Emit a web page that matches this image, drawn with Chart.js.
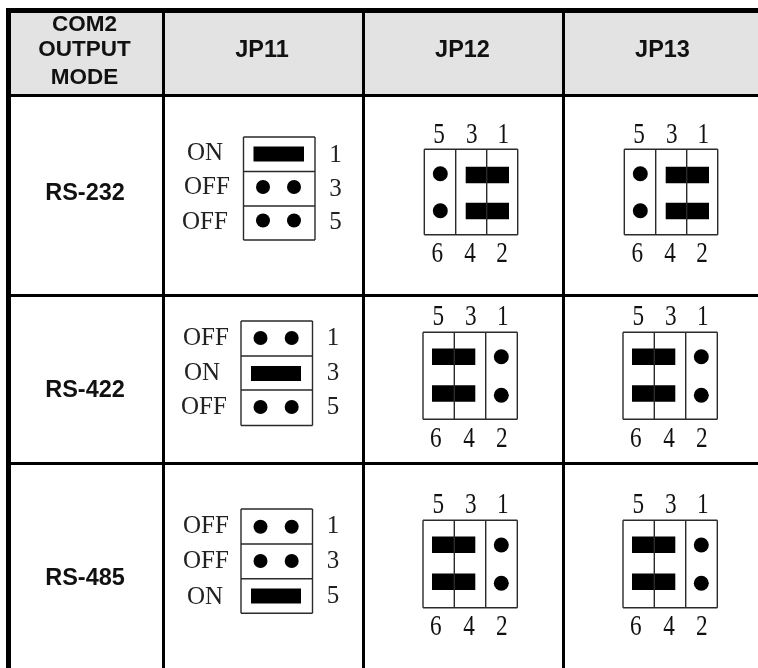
<!DOCTYPE html>
<html>
<head>
<meta charset="utf-8">
<style>html,body{margin:0;padding:0;background:#fff}canvas{display:block}</style>
<script src="https://cdn.jsdelivr.net/npm/chart.js@4"></script>
</head>
<body>
<canvas id="c" width="758" height="668"></canvas>
<script>
// ---------- table content ----------
const headerLines = ["COM2", "OUTPUT", "MODE"];
const jumpers = ["JP11", "JP12", "JP13"];
const modes = ["RS-232", "RS-422", "RS-485"];
const jp11States = [["ON", "OFF", "OFF"], ["OFF", "ON", "OFF"], ["OFF", "OFF", "ON"]];
const jp11Pins = ["1", "3", "5"];
const topPins = ["5", "3", "1"];
const bottomPins = ["6", "4", "2"];

// ---------- layout ----------
const colRules = [8.5, 163.5, 363.5, 563.5];
const rowRules = [10.5, 95.5, 295.5, 463.5];
const jp11Geo = [
  {box:[243.5,315],ys:[137,171.5,206,240],dotX:[263,294],barX:[253.5,304],labelX:[205,207,205],numX:335.5,centers:[154,187,220.5],textY:[153,187,222],numY:[155,189,222]},
  {box:[241,312.5],ys:[321,356,390,425.5],dotX:[260.5,291.7],barX:[251,301],labelX:[206,202,204],numX:333,centers:[338,373.5,407],textY:[338,373,407],numY:[338,373,407]},
  {box:[241,312.5],ys:[509,544,578.7,613.3],dotX:[260.5,291.7],barX:[251,301],labelX:[206,206,205],numX:333,centers:[526.7,561,596],textY:[526,561,597],numY:[526,561,596]}
];
const blockGeo = [
  {box:[424.3,517.7],div:[455.7,486.7],ys:[149.3,234.7],rowsY:[175,211],dotY:[173.7,210.7],barX:[465.7,509],dotX:440.3,
   topX:[439,471.7,503.3],botX:[437.3,470,502],topY:135,botY:254},
  {box:[423,517.3],div:[454.3,485.7],ys:[332.3,419.3],rowsY:[356.8,393.5],dotY:[356.7,395.3],barX:[432,475.3],dotX:501.3,
   topX:[438.3,470.7,502.7],botX:[435.7,469,501.7],topY:317.3,botY:439.3},
  {box:[423,517.3],div:[454.3,485.7],ys:[520.3,607.7],rowsY:[544.8,581.7],dotY:[545,583.3],barX:[432,475.3],dotX:501.3,
   topX:[438.3,470.7,502.7],botX:[435.7,469,501.7],topY:505,botY:627.3}
];
const blockColumnShift = [0, 200]; // JP12, JP13

// ---------- build marks ----------
const gap = {x:null, y:null};
const boxLines = [], bars11 = [], barsBlock = [], dots11 = [], dotsBlock = [];
modes.forEach((m, r) => {
  const g = jp11Geo[r];
  g.ys.forEach(y => boxLines.push({x:g.box[0],y},{x:g.box[1],y},gap));
  g.box.forEach(x => boxLines.push({x,y:g.ys[0]},{x,y:g.ys[3]},gap));
  jp11States[r].forEach((s, i) => {
    if (s === "ON") bars11.push({x:g.barX[0],y:g.centers[i]},{x:g.barX[1],y:g.centers[i]},gap);
    else g.dotX.forEach(x => dots11.push({x,y:g.centers[i]}));
  });
  blockColumnShift.forEach(dx => {
    const b = blockGeo[r];
    b.box.concat(b.div).forEach(x => boxLines.push({x:x+dx,y:b.ys[0]},{x:x+dx,y:b.ys[1]},gap));
    b.ys.forEach(y => boxLines.push({x:b.box[0]+dx,y},{x:b.box[1]+dx,y},gap));
    b.rowsY.forEach(y => barsBlock.push({x:b.barX[0]+dx,y},{x:b.barX[1]+dx,y},gap));
    b.dotY.forEach(y => dotsBlock.push({x:b.dotX+dx,y}));
  });
});

const seg = (data, color, width) => ({type:'scatter', data, showLine:true, spanGaps:false, borderColor:color,
  borderWidth:width, borderCapStyle:'butt', pointRadius:0, pointHoverRadius:0, tension:0, clip:false});
const pts = (data, r) => ({type:'scatter', data, showLine:false, pointRadius:r, pointHoverRadius:r,
  backgroundColor:'#000', borderWidth:0, clip:false});

const SANS = '"Liberation Sans", Arial, sans-serif';
const SERIF = '"Liberation Serif", "Times New Roman", serif';
const textPlugin = {
  id:'tableText',
  afterDatasetsDraw(chart){
    const {ctx, scales:{x:X, y:Y}} = chart;
    const put = (t, x, y, font, color, sx) => {
      ctx.save();
      ctx.font = font; ctx.fillStyle = color; ctx.textAlign = 'center'; ctx.textBaseline = 'middle';
      ctx.translate(X.getPixelForValue(x), Y.getPixelForValue(y));
      ctx.scale(sx || 1, 1);
      ctx.fillText(t, 0, 0);
      ctx.restore();
    };
    const hf = 'bold 22.5px ' + SANS;
    const bf = 'bold 23.5px ' + SANS;
    const headY = [25, 50, 78];
    headerLines.forEach((t, i) => put(t, 84.5, headY[i], hf, '#111'));
    const colX = [262, 462.5, 662.5];
    jumpers.forEach((t, i) => put(t, colX[i], 51, bf, '#111'));
    const modeY = [194, 391, 579];
    modes.forEach((t, i) => put(t, 85, modeY[i], bf, '#111'));
    const sf = '25px ' + SERIF;
    modes.forEach((m, r) => {
      const g = jp11Geo[r];
      jp11States[r].forEach((s, i) => {
        put(s, g.labelX[i], g.textY[i], sf, '#222');
        put(jp11Pins[i], g.numX, g.numY[i], sf, '#222');
      });
      const b = blockGeo[r];
      blockColumnShift.forEach(dx => {
        topPins.forEach((t, i) => put(t, b.topX[i]+dx, b.topY, '29px ' + SERIF, '#111', 0.8));
        bottomPins.forEach((t, i) => put(t, b.botX[i]+dx, b.botY, '29px ' + SERIF, '#111', 0.8));
      });
    });
  }
};

// The schematic marks may sit right up to the table edge: no automatic overflow padding.
Chart.registry.getController('scatter').prototype.getMaxOverflow = () => 0;

new Chart(document.getElementById('c'), {
  type:'scatter',
  data:{datasets:[
    seg([{x:11,y:53.5},{x:758,y:53.5}], '#e3e3e3', 81),
    seg(boxLines, '#2a2a2a', 1.4),
    seg(bars11, '#000', 15),
    seg(barsBlock, '#000', 16.5),
    pts(dots11, 7),
    pts(dotsBlock, 7.5)
  ]},
  options:{
    responsive:false, animation:false, events:[],
    layout:{padding:{left:6, top:8, right:0, bottom:0}},
    plugins:{legend:{display:false}, tooltip:{enabled:false}},
    scales:{
      x:{type:'linear', min:6, max:758, position:'bottom',
        afterBuildTicks:a => { a.ticks = colRules.map(value => ({value})); },
        ticks:{display:false, autoSkip:false},
        border:{display:false},
        grid:{z:1, color:'#000', drawTicks:false, lineWidth:c => c.index === 0 ? 5 : 3}},
      y:{type:'linear', min:8, max:668, reverse:true, position:'left',
        afterBuildTicks:a => { a.ticks = rowRules.map(value => ({value})); },
        ticks:{display:false, autoSkip:false},
        border:{display:false},
        grid:{z:1, color:'#000', drawTicks:false, lineWidth:c => c.index === 0 ? 5 : 3}}
    }
  },
  plugins:[textPlugin]
});
</script>
</body>
</html>
